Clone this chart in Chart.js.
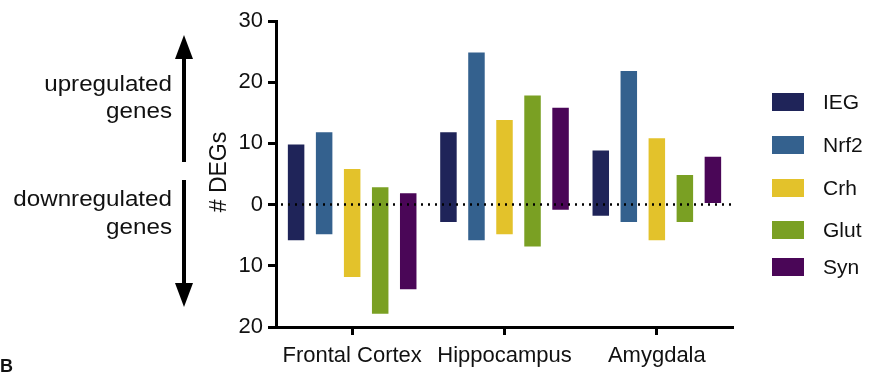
<!DOCTYPE html>
<html lang="en">
<head>
<meta charset="UTF-8">
<title>DEGs by region</title>
<script src="https://cdn.jsdelivr.net/npm/chart.js"></script>
<style>
  body { margin: 0; background: #fff; }
  #wrap { width: 871px; height: 374px; position: relative; }
</style>
</head>
<body>
<div id="wrap"><canvas id="degChart"></canvas></div>
<script>
// regions on the x axis
const regions = ['Frontal Cortex', 'Hippocampus', 'Amygdala'];
const geneSets = ['IEG', 'Nrf2', 'Crh', 'Glut', 'Syn'];
const setColors = ['#1f2459', '#34618e', '#e3c22b', '#7aa023', '#4a0657'];

// upregulated counts (positive) and downregulated counts (drawn below zero)
const iegUp = [10, 12, 9];
const iegDown = [-6, -3, -2];
const nrf2Up = [12, 25, 22];
const nrf2Down = [-5, -6, -3];
const crhUp = [6, 14, 11];
const crhDown = [-12, -5, -6];
const glutUp = [3, 18, 5];
const glutDown = [-18, -7, -3];
const synUp = [2, 16, 8];
const synDown = [-14, -1, 0];

const yTicks = [-20, -10, 0, 10, 20, 30];

const ups = [iegUp, nrf2Up, crhUp, glutUp, synUp];
const downs = [iegDown, nrf2Down, crhDown, glutDown, synDown];

const font = 'Liberation Sans, Arial, Helvetica, sans-serif';

const datasets = geneSets.map((name, i) => ({
    label: name,
    data: ups[i].map((u, j) => [downs[i][j], u]),
    backgroundColor: setColors[i],
    borderColor: 'rgba(255,255,255,0.6)',
    borderWidth: 1,
    borderSkipped: false,
    categoryPercentage: 0.92,
    barPercentage: 0.66
}));

// dotted zero line, drawn over the bars
const zeroLine = {
    id: 'zeroLine',
    afterDatasetsDraw(chart) {
        const { ctx, chartArea } = chart;
        const y = chart.scales.y.getPixelForValue(0);
        ctx.save();
        ctx.strokeStyle = '#000';
        ctx.lineWidth = 2.5;
        ctx.setLineDash([2, 5]);
        ctx.beginPath();
        ctx.moveTo(chartArea.left + 5, y);
        ctx.lineTo(chartArea.right, y);
        ctx.stroke();
        ctx.restore();
    }
};

function arrowHead(ctx, x, tipY, baseY) {
    ctx.beginPath();
    ctx.moveTo(x, tipY);
    ctx.lineTo(x - 9, baseY);
    ctx.lineTo(x + 9, baseY);
    ctx.closePath();
    ctx.fill();
}

// right-aligned text, a little wider like the original lettering
function wideText(ctx, text, right, y, sx) {
    ctx.save();
    ctx.translate(right, y);
    ctx.scale(sx, 1);
    ctx.fillText(text, 0, 0);
    ctx.restore();
}

// side notes, legend and panel letter
const notes = {
    id: 'notes',
    afterDraw(chart) {
        const ctx = chart.ctx;
        ctx.save();
        ctx.fillStyle = '#111';
        ctx.font = '22px ' + font;
        ctx.textAlign = 'right';
        ctx.textBaseline = 'alphabetic';
        wideText(ctx, 'upregulated', 172, 91, 1.1);
        wideText(ctx, 'genes', 172, 118, 1.1);
        wideText(ctx, 'downregulated', 172, 206, 1.1);
        wideText(ctx, 'genes', 172, 234, 1.1);

        // arrows
        ctx.strokeStyle = '#000';
        ctx.fillStyle = '#000';
        ctx.lineWidth = 4;
        ctx.beginPath();
        ctx.moveTo(184, 162);
        ctx.lineTo(184, 55);
        ctx.moveTo(184, 180);
        ctx.lineTo(184, 286);
        ctx.stroke();
        arrowHead(ctx, 184, 35, 59);
        arrowHead(ctx, 184, 307, 283);

        // axis title
        ctx.fillStyle = '#111';
        ctx.save();
        ctx.translate(226, 172);
        ctx.rotate(-Math.PI / 2);
        ctx.textAlign = 'center';
        ctx.font = '23px ' + font;
        ctx.fillText('# DEGs', 0, 0);
        ctx.restore();

        // legend
        const rows = [102, 145, 188, 230, 267];
        ctx.textAlign = 'left';
        ctx.textBaseline = 'middle';
        ctx.font = '21px ' + font;
        chart.data.datasets.forEach((ds, i) => {
            ctx.fillStyle = ds.backgroundColor;
            ctx.fillRect(772, rows[i] - 9, 32, 18);
            ctx.fillStyle = '#111';
            ctx.fillText(ds.label, 823, rows[i] + 1);
        });

        ctx.font = 'bold 18px ' + font;
        ctx.textBaseline = 'alphabetic';
        ctx.fillText('B', 0, 372);
        ctx.restore();
    }
};

new Chart(document.getElementById('degChart'), {
    type: 'bar',
    data: { labels: regions, datasets: datasets },
    options: {
        responsive: true,
        maintainAspectRatio: false,
        animation: false,
        layout: { padding: { top: 21, right: 138, bottom: 0, left: 0 } },
        plugins: {
            legend: { display: false },
            tooltip: { enabled: false }
        },
        scales: {
            x: {
                afterFit(axis) { axis.height = 47; },
                grid: {
                    display: true,
                    offset: false,
                    drawOnChartArea: false,
                    drawTicks: true,
                    tickLength: 8,
                    tickWidth: 3,
                    tickColor: '#000'
                },
                border: { display: true, width: 3, color: '#000' },
                ticks: {
                    color: '#111',
                    padding: 8,
                    font: { family: font, size: 22 }
                }
            },
            y: {
                min: -20,
                max: 30,
                afterFit(axis) { axis.width = 276; },
                afterBuildTicks(axis) {
                    axis.ticks = yTicks.map(v => ({ value: v }));
                },
                grid: {
                    display: true,
                    drawOnChartArea: false,
                    drawTicks: true,
                    tickLength: 8,
                    tickWidth: 3,
                    tickColor: '#000'
                },
                border: { display: true, width: 3, color: '#000' },
                ticks: {
                    color: '#111',
                    padding: 5,
                    font: { family: font, size: 22 },
                    callback: v => String(Math.abs(v))
                }
            }
        }
    },
    plugins: [zeroLine, notes]
});
</script>
</body>
</html>
